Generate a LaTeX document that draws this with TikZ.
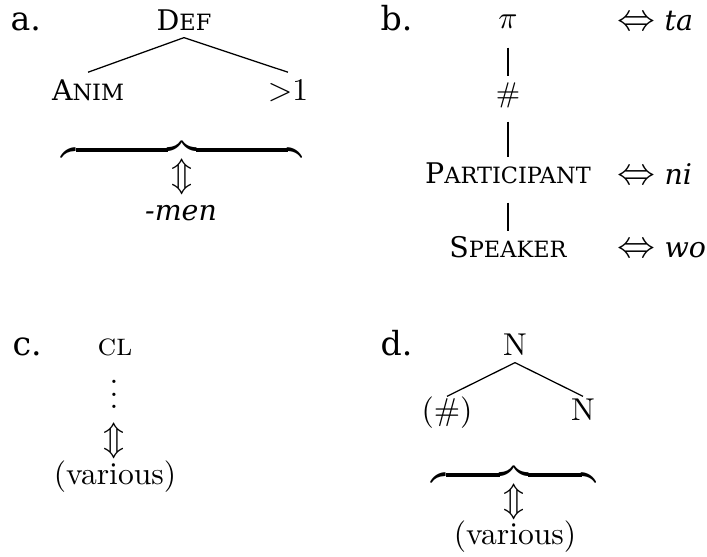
\documentclass[tikz,border=0pt]{standalone}
\usepackage[no-math]{fontspec}
\setmainfont{DejaVu Serif}
\newcommand{\cmtext}{\fontfamily{lmr}\selectfont}
% small capitals built from a full capital and reduced capitals
\newcommand{\smc}[2]{#1{\fontsize{7.1}{8}\selectfont #2}}
\newcommand{\bigsym}[1]{{\fontsize{12}{14}\selectfont$#1$}}
% three stacked dots without the extra space above them
\newcommand{\stackdots}{\vbox{\baselineskip4pt\lineskiplimit0pt\hbox{.}\hbox{.}\hbox{.}}}
\begin{document}
\begin{tikzpicture}[x=0.3165pt,y=-0.3165pt,
  lbl/.style={anchor=base west,inner sep=0pt,font=\fontsize{10.5}{12}\selectfont},
  ch/.style={anchor=base,inner sep=0pt,font=\fontsize{9}{11}\selectfont},
  cmn/.style={anchor=base,inner sep=0pt,font=\cmtext\fontsize{10}{12}\selectfont},
  sym/.style={inner sep=0pt,font=\fontsize{11}{13}\selectfont},
  treeA/.style={ch,text height=8.9pt,text depth=1.9pt},
  treeB/.style={ch,text height=8.5pt,text depth=5.7pt},
  treeD/.style={cmn,text height=7.6pt,text depth=1.9pt},
  gloss/.style={ch,anchor=base west},
  edge/.style={line width=0.4pt}
]
\useasboundingbox (0,0) rectangle (707,557);

% (a) DEF over ANIM and >1, realised as -men
\node[lbl] (la) at (10,31) {a.};
\node[treeA] (def) at (184,31) {\smc{D}{EF}};
\node[treeA] (anim) at (88,101) {\smc{A}{NIM}};
\node[treeA,font=\fontsize{10}{12}\selectfont] (gt) at (288,101) {${>}1$};
\draw[edge] (def.south) -- (anim.north);
\draw[edge] (def.south) -- (gt.north);
\node[sym,font=\fontsize{10}{12}\selectfont] (bra) at (182,150) {\hbox to 76pt{\downbracefill}};
\node[sym] (aa) at (182,177) {$\Updownarrow$};
\node[ch] (men) at (181,221) {\textit{-men}};

% (b) feature geometry with exponents
\node[lbl] (lb) at (380,31) {b.};
\node[treeB,font=\fontsize{10}{12}\selectfont] (pi) at (508,29) {$\pi$};
\node[treeB,font=\cmtext\fontsize{9}{11}\selectfont] (hash) at (508,103) {\#};
\node[treeB] (part) at (508,184) {\smc{P}{ARTICIPANT}};
\node[treeB] (spk) at (508,258) {\smc{S}{PEAKER}};
\draw[edge] (pi.south) -- (hash.north);
\draw[edge] (hash.south) -- (part.north);
\draw[edge] (part.south) -- (spk.north);
\node[gloss] (ta) at (617,31) {\bigsym{\Leftrightarrow} \textit{ta}};
\node[gloss] (ni) at (617,185) {\bigsym{\Leftrightarrow} \textit{ni}};
\node[gloss] (wo) at (617,258) {\bigsym{\Leftrightarrow} \textit{wo}};

% (c) CL with unspecified content
\node[lbl] (lc) at (12,356) {c.};
\node[cmn] (cl) at (115,356) {\textsc{cl}};
\node[cmn] (dots) at (114,409) {\stackdots};
\node[sym] (ca) at (114,441) {$\Updownarrow$};
\node[cmn] (cv) at (115,485) {(various)};

% (d) N over (#) and N
\node[lbl] (ld) at (380,356) {d.};
\node[treeD] (n0) at (515,356) {N};
\node[treeD] (nh) at (447,421) {(\#)};
\node[treeD] (n1) at (583,421) {N};
\draw[edge] (n0.south) -- (nh.north);
\draw[edge] (n0.south) -- (n1.north);
\node[sym,font=\fontsize{10}{12}\selectfont] (brd) at (514,475) {\hbox to 52pt{\downbracefill}};
\node[sym] (da) at (514,502) {$\Updownarrow$};
\node[cmn] (dv) at (515,545) {(various)};
\end{tikzpicture}
\end{document}
